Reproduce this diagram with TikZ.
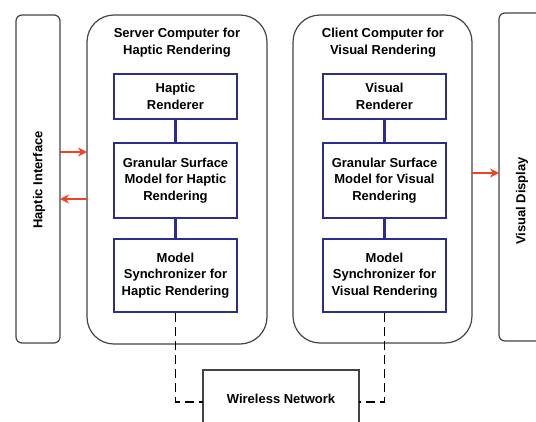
\documentclass[tikz,border=0pt]{standalone}
\usepackage{fontspec}
\setmainfont{Liberation Sans}
\usetikzlibrary{arrows.meta}
\definecolor{navy}{HTML}{2E2E8A}
\definecolor{arrred}{HTML}{EE4422}
\definecolor{outl}{HTML}{444444}
\begin{document}
\begin{tikzpicture}[x=1pt,y=-1pt,
  outer/.style={draw=outl,line width=1.2pt},
  inner/.style={draw=navy,line width=2.2pt,minimum width=123pt,align=center,inner sep=1pt,font=\bfseries\fontsize{13}{16.5}\selectfont},
  title/.style={align=center,font=\bfseries\fontsize{13}{17}\selectfont},
  lbl/.style={font=\bfseries\fontsize{13}{15}\selectfont},
  link/.style={draw=navy,line width=2.2pt},
  redarr/.style={draw=arrred,line width=2.6pt,-{Stealth[length=9pt,width=9pt]}},
  dashlink/.style={draw=black,line width=1.5pt,dash pattern=on 9pt off 5pt}]
\useasboundingbox (0,0) rectangle (536,421);
% outer boxes
\draw[outer,rounded corners=6pt] (16,15) rectangle (60,343);
\node[lbl,rotate=90] (hi) at (39,180) {Haptic Interface};
\draw[outer,rounded corners=27pt] (87,15) rectangle (267,344);
\node[title] (st) at (177,43) {Server Computer for\\Haptic Rendering};
\draw[outer,rounded corners=27pt] (293,15) rectangle (472,343);
\node[title] (ct) at (383,43) {Client Computer for\\Visual Rendering};
\draw[outer,rounded corners=6pt] (499,13) rectangle (560,341);
\node[lbl,rotate=90] (vd) at (522,201) {Visual Display};
\draw[outer] (203,460) -- (203,370) -- (359,370) -- (359,460);
\node[lbl] (wn) at (281,399) {Wireless Network};
% inner boxes
\node[inner,minimum height=45pt] (hr) at (175.5,96.5) {Haptic\\Renderer};
\node[inner,minimum height=75pt] (hg) at (175.5,180.5) {Granular Surface\\Model for Haptic\\Rendering};
\node[inner,minimum height=73pt] (hs) at (175.5,275.5) {Model\\Synchronizer for\\Haptic Rendering};
\node[inner,minimum height=45pt] (vr) at (384.5,96.5) {Visual\\Renderer};
\node[inner,minimum height=75pt] (vg) at (384.5,180.5) {Granular Surface\\Model for Visual\\Rendering};
\node[inner,minimum height=73pt] (vs) at (384.5,275.5) {Model\\Synchronizer for\\Visual Rendering};
\draw[link] (hr) -- (hg);
\draw[link] (hg) -- (hs);
\draw[link] (vr) -- (vg);
\draw[link] (vg) -- (vs);
% red arrows
\coordinate (a1s) at (60,152); \coordinate (a1e) at (87,152);
\coordinate (a2s) at (87,199); \coordinate (a2e) at (60,199);
\coordinate (a3s) at (472,173); \coordinate (a3e) at (499,173);
\draw[redarr] (a1s) -- (a1e);
\draw[redarr] (a2s) -- (a2e);
\draw[redarr] (a3s) -- (a3e);
% dashed network links
\coordinate (wl) at (203,402);
\coordinate (wr) at (359,402);
\draw[dashlink] (hs.south) |- (wl);
\draw[dashlink] (vs.south) |- (wr);
\end{tikzpicture}
\end{document}
